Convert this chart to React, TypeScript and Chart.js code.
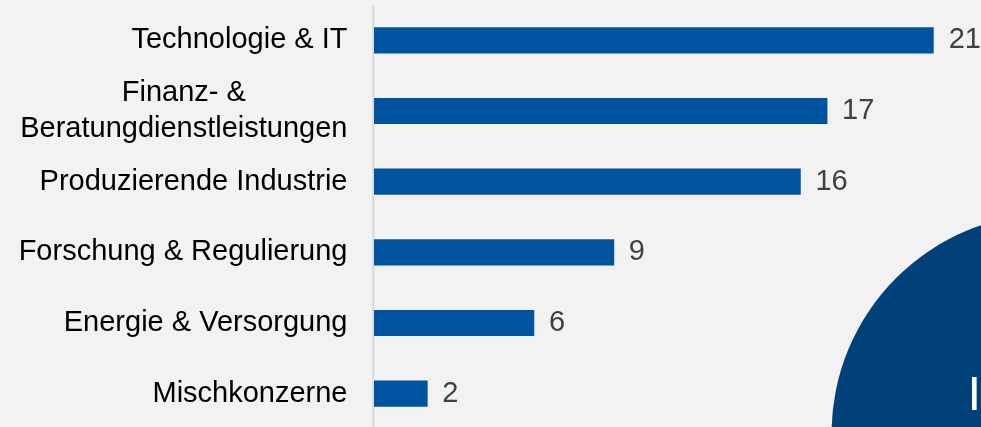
import { useEffect, useRef } from 'react';
import { Chart, registerables } from 'chart.js';

Chart.register(...registerables);

const categories: (string | string[])[] = [
  'Technologie & IT',
  ['Finanz- &', 'Beratungdienstleistungen'],
  'Produzierende Industrie',
  'Forschung & Regulierung',
  'Energie & Versorgung',
  'Mischkonzerne',
];
const values: number[] = [21, 17, 16, 9, 6, 2];
const decorText = 'I';

const FONT = "'Liberation Sans', Arial, sans-serif";

const decorPlugin = {
  id: 'decor',
  beforeDatasetsDraw(chart: any) {
    const { ctx, chartArea, scales } = chart;
    const y = scales.y;
    ctx.save();
    // decorative circle
    ctx.fillStyle = '#024079';
    ctx.beginPath();
    ctx.arc(1052, 434, 220.5, 0, Math.PI * 2);
    ctx.fill();
    ctx.fillStyle = '#ffffff';
    ctx.font = `49px ${FONT}`;
    ctx.textAlign = 'left';
    ctx.textBaseline = 'alphabetic';
    ctx.fillText(decorText, 967.4, 410);
    // axis line
    ctx.strokeStyle = '#d9d9d9';
    ctx.lineWidth = 2;
    ctx.beginPath();
    ctx.moveTo(373.3, chartArea.top);
    ctx.lineTo(373.3, chart.height);
    ctx.stroke();
    // category labels
    ctx.fillStyle = '#000000';
    ctx.font = `29px ${FONT}`;
    ctx.textAlign = 'center';
    ctx.textBaseline = 'middle';
    const rightEdge = 347.5;
    const lineH = 36;
    categories.forEach((cat, i) => {
      const lines = Array.isArray(cat) ? cat : [cat];
      const widest = Math.max(...lines.map((l) => ctx.measureText(l).width));
      const cx = rightEdge - widest / 2;
      const cy = y.getPixelForTick(i);
      const startY = cy - ((lines.length - 1) * lineH) / 2;
      lines.forEach((l, j) => ctx.fillText(l, cx, startY + j * lineH));
    });
    ctx.restore();
  },
  afterDatasetsDraw(chart: any) {
    const { ctx } = chart;
    const meta = chart.getDatasetMeta(0);
    ctx.save();
    ctx.fillStyle = '#404040';
    ctx.font = `29px ${FONT}`;
    ctx.textAlign = 'left';
    ctx.textBaseline = 'middle';
    meta.data.forEach((bar: any, i: number) => {
      ctx.fillText(String(values[i]), bar.x + 15, bar.y);
    });
    ctx.restore();
  },
};

export default function App() {
  const ref = useRef<HTMLCanvasElement | null>(null);

  useEffect(() => {
    if (!ref.current) return;
    const chart = new Chart(ref.current, {
      type: 'bar',
      data: {
        labels: categories as any,
        datasets: [
          {
            data: values,
            backgroundColor: '#00549F',
            borderWidth: 0,
            barThickness: 25.5,
          },
        ],
      },
      options: {
        indexAxis: 'y',
        responsive: false,
        animation: false,
        layout: { padding: { left: 374, right: 47.3, top: 5, bottom: 0 } },
        scales: {
          x: { type: 'linear', min: 0, max: 21, display: false },
          y: { type: 'category', display: false, offset: true },
        },
        plugins: {
          legend: { display: false },
          tooltip: { enabled: false },
        },
      },
      plugins: [decorPlugin],
    });
    return () => chart.destroy();
  }, []);

  return (
    <div
      style={{
        position: 'fixed',
        left: 0,
        top: 0,
        width: 981,
        height: 427,
        overflow: 'hidden',
        background: '#f2f2f2',
      }}
    >
      <canvas ref={ref} width={981} height={429} style={{ display: 'block' }} />
    </div>
  );
}
